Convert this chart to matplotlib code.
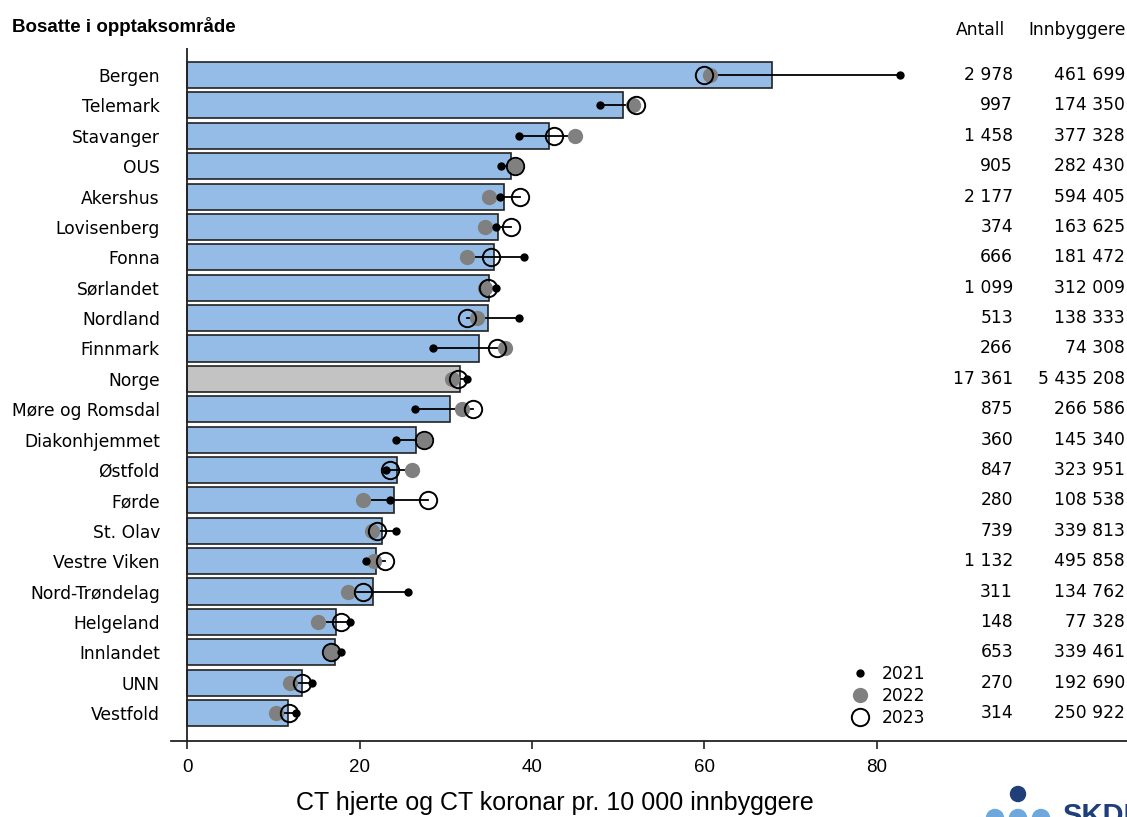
import matplotlib
matplotlib.use("Agg")
import matplotlib.pyplot as plt
import matplotlib.transforms as mtransforms
from matplotlib.lines import Line2D
from matplotlib.patches import Circle

# Regions (opptaksområder), sorted by mean rate
regions = ["Bergen", "Telemark", "Stavanger", "OUS", "Akershus", "Lovisenberg",
           "Fonna", "Sørlandet", "Nordland", "Finnmark", "Norge",
           "Møre og Romsdal", "Diakonhjemmet", "Østfold", "Førde", "St. Olav",
           "Vestre Viken", "Nord-Trøndelag", "Helgeland", "Innlandet", "UNN",
           "Vestfold"]

# Mean rate 2021-2023 per 10 000 inhabitants
rate_mean = [67.8, 50.6, 42.0, 37.6, 36.7, 36.1, 35.6, 35.0, 34.9, 33.8, 31.7,
             30.5, 26.5, 24.4, 24.0, 22.6, 21.9, 21.6, 17.3, 17.2, 13.3, 11.7]

# Yearly rates
rate_2021 = [82.7, 47.9, 38.5, 36.4, 36.3, 35.8, 39.1, 35.8, 38.5, 28.5, 32.5,
             26.4, 24.2, 23.1, 23.5, 24.2, 20.8, 25.6, 18.9, 17.9, 14.5, 12.6]
rate_2022 = [60.7, 51.7, 45.0, 38.0, 35.0, 34.5, 32.5, 34.5, 33.6, 36.9, 30.7,
             31.9, 27.5, 26.1, 20.4, 21.5, 21.7, 18.7, 15.2, 16.7, 11.9, 10.3]
rate_2023 = [59.9, 52.1, 42.5, 38.0, 38.6, 37.6, 35.3, 34.9, 32.5, 36.0, 31.4,
             33.2, 27.5, 23.5, 28.0, 22.0, 23.0, 20.4, 17.9, 16.7, 13.3, 11.8]

# Number of examinations and inhabitants
antall = [2978, 997, 1458, 905, 2177, 374, 666, 1099, 513, 266, 17361,
          875, 360, 847, 280, 739, 1132, 311, 148, 653, 270, 314]
innbyggere = [461699, 174350, 377328, 282430, 594405, 163625, 181472, 312009,
              138333, 74308, 5435208, 266586, 145340, 323951, 108538, 339813,
              495858, 134762, 77328, 339461, 192690, 250922]

x_ticks = [0, 20, 40, 60, 80]
x_label = "CT hjerte og CT koronar pr. 10 000 innbyggere"
title = "Bosatte i opptaksområde"
year_labels = ["2021", "2022", "2023"]


def fmt(n):
    return f"{n:,}".replace(",", " ")


W, H = 1127, 817
fig = plt.figure(figsize=(W / 100, H / 100), dpi=100)
ax = fig.add_axes([171 / W, 1 - 741 / H, 1 - 171 / W, (741 - 48) / H])

BLUE = "#95bce6"
GREY_BAR = "#c3c3c3"
EDGE = "#222222"

ypos = list(range(len(regions)))
colors = [GREY_BAR if r == "Norge" else BLUE for r in regions]
ax.barh(ypos, rate_mean, height=0.86, color=colors, edgecolor=EDGE,
        linewidth=1.2, zorder=2)

for i in ypos:
    vals = [rate_2021[i], rate_2022[i], rate_2023[i]]
    ax.plot([min(vals), max(vals)], [i, i], color="black", lw=1.3, zorder=3)

ax.plot(rate_2022, ypos, "o", ms=11, color="#808080", mec="none", zorder=4)
ax.plot(rate_2023, ypos, "o", ms=12.5, mfc="none", mec="black", mew=1.4, zorder=5)
ax.plot(rate_2021, ypos, "o", ms=6, color="black", mec="none", zorder=6)

ax.axvline(0, color=EDGE, lw=1.3, zorder=7)

ax.set_xlim(-1.86, 109.0)
ax.set_ylim(21.92, -0.89)

ax.set_yticks(ypos)
ax.set_yticklabels(regions, fontsize=12.3, family="DejaVu Sans")
ax.tick_params(axis="y", length=0, pad=8)

ax.set_xticks(x_ticks)
ax.set_xticklabels([str(t) for t in x_ticks], fontsize=13.5, family="Liberation Sans")
ax.tick_params(axis="x", length=6, width=1.2, color=EDGE, pad=7)
ax.set_xlabel(x_label, fontsize=18, family="Liberation Sans", labelpad=10)
ax.xaxis.set_label_coords((555 - 171) / 956, -(803 - 741) / 693)
ax.xaxis.label.set_va("center")

for s in ["top", "right", "left"]:
    ax.spines[s].set_visible(False)
ax.spines["bottom"].set_color(EDGE)
ax.spines["bottom"].set_linewidth(1.3)

# Table columns on the right
tr = mtransforms.blended_transform_factory(fig.transFigure, ax.transData)
for i in ypos:
    fig.text(1013 / W, i, fmt(antall[i]), transform=tr, ha="right", va="center",
             fontsize=12.3, family="DejaVu Sans")
    fig.text(1125 / W, i, fmt(innbyggere[i]), transform=tr, ha="right", va="center",
             fontsize=12.3, family="DejaVu Sans")

fig.text(980 / W, 1 - 30 / H, "Antall", ha="center", va="center", fontsize=12.3,
         family="DejaVu Sans")
fig.text(1077 / W, 1 - 30 / H, "Innbyggere", ha="center", va="center", fontsize=12.3,
         family="DejaVu Sans")
fig.text(12 / W, 1 - 27 / H, title, ha="left", va="center", fontsize=13.5,
         fontweight="bold", family="Liberation Sans")

# Legend
handles = [
    Line2D([], [], ls="none", marker="o", ms=6, color="black", mec="none"),
    Line2D([], [], ls="none", marker="o", ms=11, color="#808080", mec="none"),
    Line2D([], [], ls="none", marker="o", ms=12.5, mfc="none", mec="black", mew=1.4),
]
ax.legend(handles, year_labels, loc="upper left",
          bbox_to_anchor=(843 / W, 1 - 656 / H), bbox_transform=fig.transFigure,
          frameon=False, handlelength=1.0, handletextpad=0.75,
          labelspacing=0.25, borderpad=0, prop={"family": "DejaVu Sans", "size": 12.3})

# SKDE logo
logo_ax = fig.add_axes([0, 0, 1, 1], zorder=-1)
logo_ax.set_xlim(0, W)
logo_ax.set_ylim(H, 0)
logo_ax.axis("off")
logo_ax.add_patch(Circle((1018, 794), 7.5, color="#1f3f7a"))
for cx in (995, 1018, 1041):
    logo_ax.add_patch(Circle((cx, 818), 8.5, color="#6fa8dc"))
logo_ax.text(1062, 824, "SKDE", fontsize=21, fontweight="bold", color="#1f3f7a",
             family="Liberation Sans", va="baseline", ha="left")

fig.savefig("out.png", dpi=100)
